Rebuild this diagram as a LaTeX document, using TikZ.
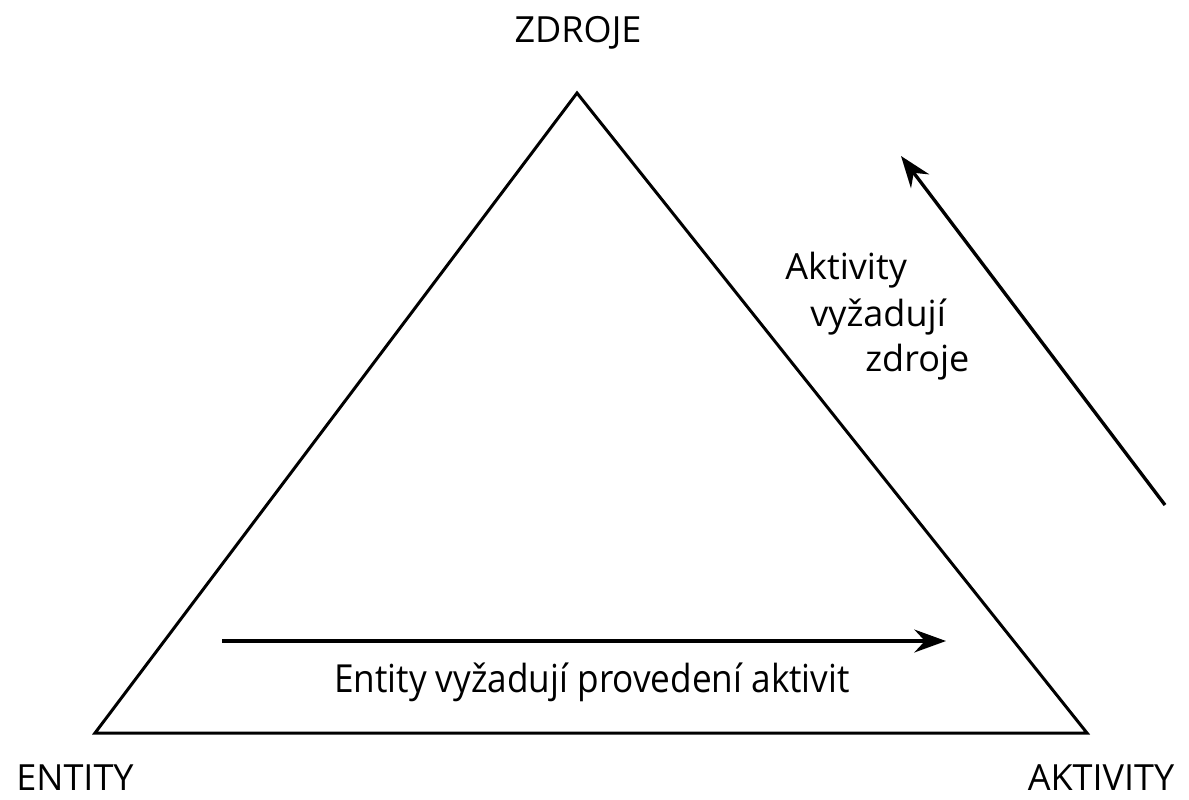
\documentclass[tikz,border=0pt]{standalone}
\usepackage{fontspec}
\setmainfont{Open Sans}
\usetikzlibrary{arrows.meta}
\begin{document}
\begin{tikzpicture}[x=0.02cm,y=-0.02cm,
  lbl/.style={font=\fontsize{20.5}{24}\selectfont, inner sep=0pt},
  edge/.style={line width=1.7pt, line join=miter},
  arr/.style={line width=1.9pt, -{Stealth[length=18pt,width=13pt,inset=6pt]}}]
\useasboundingbox (0,0) rectangle (1189,799);
\coordinate (top) at (577,93);
\coordinate (bl) at (95,733);
\coordinate (br) at (1087,733);
\draw[edge] (top) -- (bl) -- (br) -- cycle;
\node[lbl] (zdroje) at (578,33) {ZDROJE};
\node[lbl] (entity) at (75,778) {ENTITY};
\node[lbl] (aktivity) at (1101,778) {AKTIVITY};
\coordinate (h1) at (222,641);
\coordinate (h2) at (946,641);
\draw[arr] (h1) -- (h2);
\node[lbl, font=\fontsize{22}{26}\selectfont, xscale=0.91] (ent) at (592,682) {Entity vyžadují provedení aktivit};
\coordinate (d1) at (1165,505);
\coordinate (d2) at (901,156);
\draw[arr] (d1) -- (d2);
\node[lbl, anchor=west] (t1) at (785,270) {Aktivity};
\node[lbl, anchor=west] (t2) at (810,317) {vyžadují};
\node[lbl, anchor=west] (t3) at (865,362) {zdroje};
\end{tikzpicture}
\end{document}
